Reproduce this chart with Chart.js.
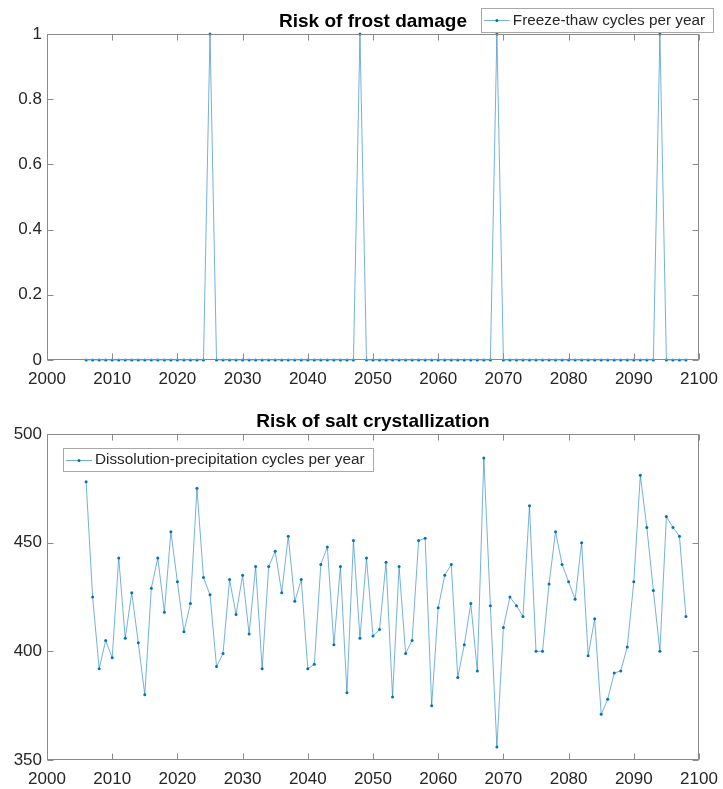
<!DOCTYPE html>
<html><head><meta charset="utf-8">
<script src="https://cdn.jsdelivr.net/npm/chart.js@4.4.1/dist/chart.umd.min.js"></script>
<style>
html,body{margin:0;padding:0;background:#fff;width:723px;height:789px;overflow:hidden}
.wrap{position:absolute;left:0;width:723px}
#w1{top:0;height:395px}
#w2{top:395px;height:394px}
</style></head><body>
<div class="wrap" id="w1"><canvas id="c1"></canvas></div>
<div class="wrap" id="w2"><canvas id="c2"></canvas></div>
<script>
// ---- data ----
const years = [2006,2007,2008,2009,2010,2011,2012,2013,2014,2015,
  2016,2017,2018,2019,2020,2021,2022,2023,2024,2025,
  2026,2027,2028,2029,2030,2031,2032,2033,2034,2035,
  2036,2037,2038,2039,2040,2041,2042,2043,2044,2045,
  2046,2047,2048,2049,2050,2051,2052,2053,2054,2055,
  2056,2057,2058,2059,2060,2061,2062,2063,2064,2065,
  2066,2067,2068,2069,2070,2071,2072,2073,2074,2075,
  2076,2077,2078,2079,2080,2081,2082,2083,2084,2085,
  2086,2087,2088,2089,2090,2091,2092,2093,2094,2095,
  2096,2097,2098];
const freezeThaw = [0,0,0,0,0,0,0,0,0,0,
  0,0,0,0,0,0,0,0,0,1,
  0,0,0,0,0,0,0,0,0,0,
  0,0,0,0,0,0,0,0,0,0,
  0,0,1,0,0,0,0,0,0,0,
  0,0,0,0,0,0,0,0,0,0,
  0,0,0,1,0,0,0,0,0,0,
  0,0,0,0,0,0,0,0,0,0,
  0,0,0,0,0,0,0,0,1,0,
  0,0,0];
const dissolution = [478,425,392,405,397,443,406,427,404,380,
  429,443,418,455,432,409,422,475,434,426,
  393,399,433,417,435,408,439,392,439,446,
  427,453,423,433,392,394,440,448,403,439,
  381,451,406,443,407,410,441,379,439,399,
  405,451,452,375,420,435,440,388,403,422,
  391,489,421,356,411,425,421,416,467,400,
  400,431,455,440,432,424,450,398,415,371,
  378,390,391,402,432,481,457,428,400,462,
  457,453,416];
const xRange = [2000, 2100];
const xStep = 10;
const topYRange = [0, 1];
const topYStep = 0.2;
const botYRange = [350, 500];
const botYStep = 50;
const topTitle = 'Risk of frost damage';
const botTitle = 'Risk of salt crystallization';
const topLegend = 'Freeze-thaw cycles per year';
const botLegend = 'Dissolution-precipitation cycles per year';

// ---- styles ----
const FONT = '"Liberation Sans", Arial, Helvetica, sans-serif';
const AX = '#8a8a8a';
const TXT = '#262626';
const BLUE = '#0072BD';
const LINE = 'rgba(0,114,189,0.55)';

const matlabAxes = {
  id: 'matlabAxes',
  afterDraw(chart, args, o) {
    const ctx = chart.ctx, a = chart.chartArea;
    const xs = chart.scales.x, ys = chart.scales.y;
    ctx.save();
    ctx.strokeStyle = AX; ctx.lineWidth = 1;
    const L = Math.round(a.left) + 0.5, R = Math.round(a.right) - 0.5;
    const T = Math.round(a.top) + 0.5, B = Math.round(a.bottom) - 0.5;
    ctx.strokeRect(L, T, R - L, B - T);
    const tl = 6;
    ctx.beginPath();
    xs.ticks.forEach(t => {
      const p = Math.round(xs.getPixelForValue(t.value)) + 0.5;
      ctx.moveTo(p, B); ctx.lineTo(p, B - tl);
      ctx.moveTo(p, T); ctx.lineTo(p, T + tl);
    });
    ys.ticks.forEach(t => {
      const p = Math.round(ys.getPixelForValue(t.value)) + 0.5;
      ctx.moveTo(L, p); ctx.lineTo(L + tl, p);
      ctx.moveTo(R, p); ctx.lineTo(R - tl, p);
    });
    ctx.stroke();
    // title
    ctx.fillStyle = '#000';
    ctx.font = 'bold 19px ' + FONT;
    ctx.textAlign = 'center'; ctx.textBaseline = 'alphabetic';
    ctx.fillText(o.title, (a.left + a.right) / 2, a.top - o.titleGap);
    // legend
    const lg = o.legend;
    ctx.font = '15.3px ' + FONT;
    const tw = ctx.measureText(lg.text).width;
    const bw = tw + 40, bh = lg.h;
    const bx = lg.anchorRight ? a.right + lg.dx - bw : a.left + lg.dx;
    const by = a.top + lg.dy;
    ctx.fillStyle = '#fff';
    ctx.fillRect(bx, by, bw, bh);
    ctx.strokeStyle = '#a8a8a8';
    ctx.strokeRect(Math.round(bx) + 0.5, Math.round(by) + 0.5, Math.round(bw), Math.round(bh));
    const cy = by + bh / 2;
    ctx.strokeStyle = LINE; ctx.lineWidth = 1;
    ctx.beginPath(); ctx.moveTo(bx + 3, Math.round(cy) + 0.5); ctx.lineTo(bx + 29, Math.round(cy) + 0.5); ctx.stroke();
    ctx.fillStyle = BLUE;
    ctx.beginPath(); ctx.arc(bx + 16, Math.round(cy) + 0.5, 1.5, 0, Math.PI * 2); ctx.fill();
    ctx.fillStyle = TXT; ctx.textAlign = 'left'; ctx.textBaseline = 'middle';
    ctx.fillText(lg.text, bx + 32, cy + 0.5);
    ctx.restore();
  }
};

function makeChart(id, values, yRange, yStep, yFmt, axisH, padTop, title, legend) {
  return new Chart(document.getElementById(id), {
    type: 'line',
    data: {
      datasets: [{
        data: years.map((y, i) => ({ x: y, y: values[i] })),
        borderColor: LINE, borderWidth: 1,
        pointRadius: 1.5, pointHoverRadius: 1.5,
        pointBackgroundColor: BLUE, pointBorderWidth: 0,
        tension: 0, clip: false, fill: false
      }]
    },
    options: {
      responsive: true, maintainAspectRatio: false, animation: false,
      devicePixelRatio: 1,
      layout: { padding: { top: padTop, right: 24, bottom: 0, left: 0 } },
      plugins: {
        legend: { display: false }, tooltip: { enabled: false }, title: { display: false },
        matlabAxes: { title: title, titleGap: 7, legend: legend }
      },
      scales: {
        x: {
          type: 'linear', min: xRange[0], max: xRange[1],
          grid: { display: false, drawTicks: false }, border: { display: false },
          afterFit: s => { s.height = axisH; s.paddingLeft = 0; s.paddingRight = 0; },
          ticks: { stepSize: xStep, color: TXT, padding: 9, maxRotation: 0,
                   font: { family: FONT, size: 17 }, callback: v => String(v) }
        },
        y: {
          min: yRange[0], max: yRange[1],
          grid: { display: false, drawTicks: false }, border: { display: false },
          afterFit: s => { s.width = 47; s.paddingTop = 0; s.paddingBottom = 0; },
          ticks: { stepSize: yStep, color: TXT, padding: 5,
                   font: { family: FONT, size: 17 }, callback: yFmt }
        }
      }
    },
    plugins: [matlabAxes]
  });
}

makeChart('c1', freezeThaw, topYRange, topYStep, v => String(+v.toFixed(1)), 35, 34,
  topTitle, { text: topLegend, anchorRight: true, dx: 14, dy: -26, h: 24 });
makeChart('c2', dissolution, botYRange, botYStep, v => String(v), 29, 39,
  botTitle, { text: botLegend, anchorRight: false, dx: 16, dy: 14, h: 23 });
</script>
</body></html>
